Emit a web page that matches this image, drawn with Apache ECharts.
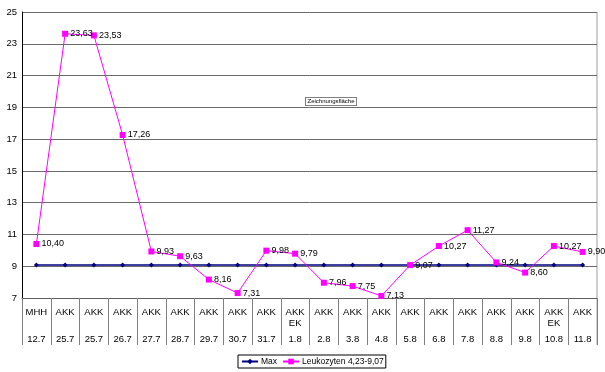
<!DOCTYPE html>
<html><head><meta charset="utf-8">
<script src="https://cdn.jsdelivr.net/npm/echarts@6/dist/echarts.min.js"></script>
<style>html,body{margin:0;padding:0;background:#fff}#c{width:605px;height:372px}</style>
</head><body><div id="c"></div>
<script>
const places = ['MHH','AKK','AKK','AKK','AKK','AKK','AKK','AKK','AKK','AKK\nEK','AKK','AKK','AKK','AKK','AKK','AKK','AKK','AKK','AKK\nEK','AKK'];
const dates = ['12.7','25.7','25.7','26.7','27.7','28.7','29.7','30.7','31.7','1.8','2.8','3.8','4.8','5.8','6.8','7.8','8.8','9.8','10.8','11.8'];
const maxVals = [9.07,9.07,9.07,9.07,9.07,9.07,9.07,9.07,9.07,9.07,9.07,9.07,9.07,9.07,9.07,9.07,9.07,9.07,9.07,9.07];
const leuko = [10.40,23.63,23.53,17.26,9.93,9.63,8.16,7.31,9.98,9.79,7.96,7.75,7.13,9.07,10.27,11.27,9.24,8.60,10.27,9.90];
const yTicks = [7,9,11,13,15,17,19,21,23,25];

const chart = echarts.init(document.getElementById('c'));
const fnt = 'Liberation Sans, Arial, sans-serif';
chart.setOption({
  animation:false,
  textStyle:{fontFamily:fnt},
  grid:{left:22,right:8,top:12,bottom:74},
  xAxis:[{
    type:'category', data:places, boundaryGap:true,
    axisLine:{lineStyle:{color:'#606060'}},
    axisTick:{show:true,length:47,lineStyle:{color:'#808080'}},
    axisLabel:{interval:0,fontSize:9.5,color:'#000',margin:9,lineHeight:11,fontFamily:fnt,verticalAlign:'top'}
  },{
    type:'category', data:dates, position:'bottom', boundaryGap:true,
    axisLine:{show:false}, axisTick:{show:false},
    axisLabel:{interval:0,fontSize:9.5,color:'#000',margin:36,fontFamily:fnt,verticalAlign:'top'}
  }],
  yAxis:{
    type:'value', min:yTicks[0], max:yTicks[yTicks.length-1], interval:2,
    axisLine:{show:true,lineStyle:{color:'#000'}},
    axisTick:{show:false},
    axisLabel:{fontSize:9.5,color:'#000',margin:5,fontFamily:fnt},
    splitLine:{lineStyle:{color:'#6a6a6a'}}
  },
  legend:{
    top:355, left:238, orient:'horizontal',
    borderColor:'#000', borderWidth:1, padding:[2,2,2,3], itemGap:5,
    itemWidth:16, itemHeight:7,
    textStyle:{fontSize:8.5,color:'#000',fontFamily:fnt,padding:[0,0,0,-2]},
    data:['Max','Leukozyten 4,23-9,07']
  },
  series:[{
    name:'Max', type:'line', data:maxVals,
    symbol:'diamond', symbolSize:5,
    lineStyle:{color:'#000080',width:1.5},
    itemStyle:{color:'#000080'}
  },{
    name:'Leukozyten 4,23-9,07', type:'line', data:leuko,
    symbol:'rect', symbolSize:6,
    lineStyle:{color:'#ff00ff',width:1},
    itemStyle:{color:'#ff00ff'},
    label:{show:true,position:'right',distance:2,fontSize:9,color:'#000',fontFamily:fnt,
      formatter:p=>p.value.toFixed(2).replace('.',',')}
  }],
  graphic:[{
    type:'text', left:305, top:97,
    style:{text:'Zeichnungsfläche',fontSize:6,fill:'#000',fontFamily:fnt,
      backgroundColor:'#fff',borderColor:'#000',borderWidth:0.5,padding:[1,2]}
  },{
    type:'line', shape:{x1:597,y1:12,x2:597,y2:345}, style:{stroke:'#a0a0a0',lineWidth:1}
  }]
});
</script></body></html>
